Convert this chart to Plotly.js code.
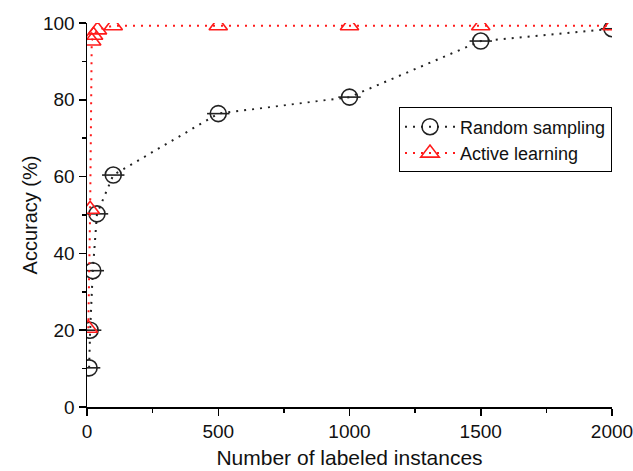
<!DOCTYPE html>
<html>
<head>
<meta charset="utf-8">
<script src="https://cdn.plot.ly/plotly-3.0.1.min.js"></script>
<style>html,body{margin:0;padding:0;background:#fff;}#chart{width:633px;height:471px;}</style>
</head>
<body>
<div id="chart"></div>
<script>
// Data
const rsX = [8, 12, 22, 38, 100, 500, 1000, 1500, 2000];
const rsY = [10.2, 20, 35.5, 50.3, 60.4, 76.4, 80.7, 95.3, 98.5];
const alX = [5, 12, 18, 25, 40, 100, 500, 1000, 1500, 2000];
const alY = [20.5, 51.5, 95.3, 96.8, 98.2, 99.3, 99.3, 99.3, 99.3, 99.3];
const seriesNames = ["Random sampling", "Active learning"];
const xTicks = [0, 500, 1000, 1500, 2000];
const yTicks = [0, 20, 40, 60, 80, 100];

const black = "#222222";
const red = "#ff1a1a";
const font = "Liberation Sans, Arial, sans-serif";

const traces = [
  {
    x: rsX, y: rsY, name: seriesNames[0], type: "scatter", mode: "lines+markers",
    line: {color: black, width: 2, dash: "2px,6px"},
    marker: {symbol: "circle-open", size: 16, color: black, line: {width: 1.6, color: black}},
    cliponaxis: true, legendgroup: "rs"
  },
  {
    x: rsX, y: rsY, name: seriesNames[0], type: "scatter", mode: "markers",
    marker: {symbol: "line-ew-open", size: 16, color: black, line: {width: 1.6, color: black}},
    cliponaxis: true, showlegend: false, legendgroup: "rs", hoverinfo: "skip"
  },
  {
    x: alX, y: alY, name: seriesNames[1], type: "scatter", mode: "lines+markers",
    line: {color: red, width: 2, dash: "2px,6px"},
    marker: {symbol: "triangle-up-open", size: 16, color: red, line: {width: 1.6, color: red}},
    cliponaxis: true
  }
];

const layout = {
  width: 633, height: 471,
  margin: {l: 87, r: 21, t: 23, b: 64},
  paper_bgcolor: "#fff", plot_bgcolor: "#fff",
  font: {family: font, size: 18, color: "#111"},
  showlegend: true,
  legend: {
    x: 1, xanchor: "right", y: 0.78, yanchor: "top",
    bordercolor: "#000", borderwidth: 1, bgcolor: "#fff",
    font: {family: font, size: 18, color: "#111"},
    tracegroupgap: 0, itemwidth: 50
  },
  xaxis: {
    range: [0, 2000], tickvals: xTicks, ticktext: xTicks.map(String),
    showgrid: false, zeroline: false, showline: true, linecolor: "#000", linewidth: 1.5,
    ticks: "outside", ticklen: 7, tickwidth: 1.5, tickcolor: "#000",
    ticklabeloverflow: "allow",
    minor: {dtick: 250, tick0: 0, ticks: "outside", ticklen: 4, tickwidth: 1.5, tickcolor: "#000", showgrid: false},
    tickfont: {size: 19}, title: {text: "Number of labeled instances", font: {size: 21}, standoff: 9}
  },
  yaxis: {
    range: [0, 100], tickvals: yTicks, ticktext: yTicks.map(String),
    showgrid: false, zeroline: false, showline: true, linecolor: "#000", linewidth: 1.5,
    ticks: "outside", ticklen: 7, tickwidth: 1.5, tickcolor: "#000",
    minor: {dtick: 10, tick0: 0, ticks: "outside", ticklen: 4, tickwidth: 1.5, tickcolor: "#000", showgrid: false},
    tickfont: {size: 19}, title: {text: "Accuracy (%)", font: {size: 20}, standoff: 0}
  }
};

Plotly.newPlot("chart", traces, layout, {displayModeBar: false, staticPlot: true});
</script>
</body>
</html>
